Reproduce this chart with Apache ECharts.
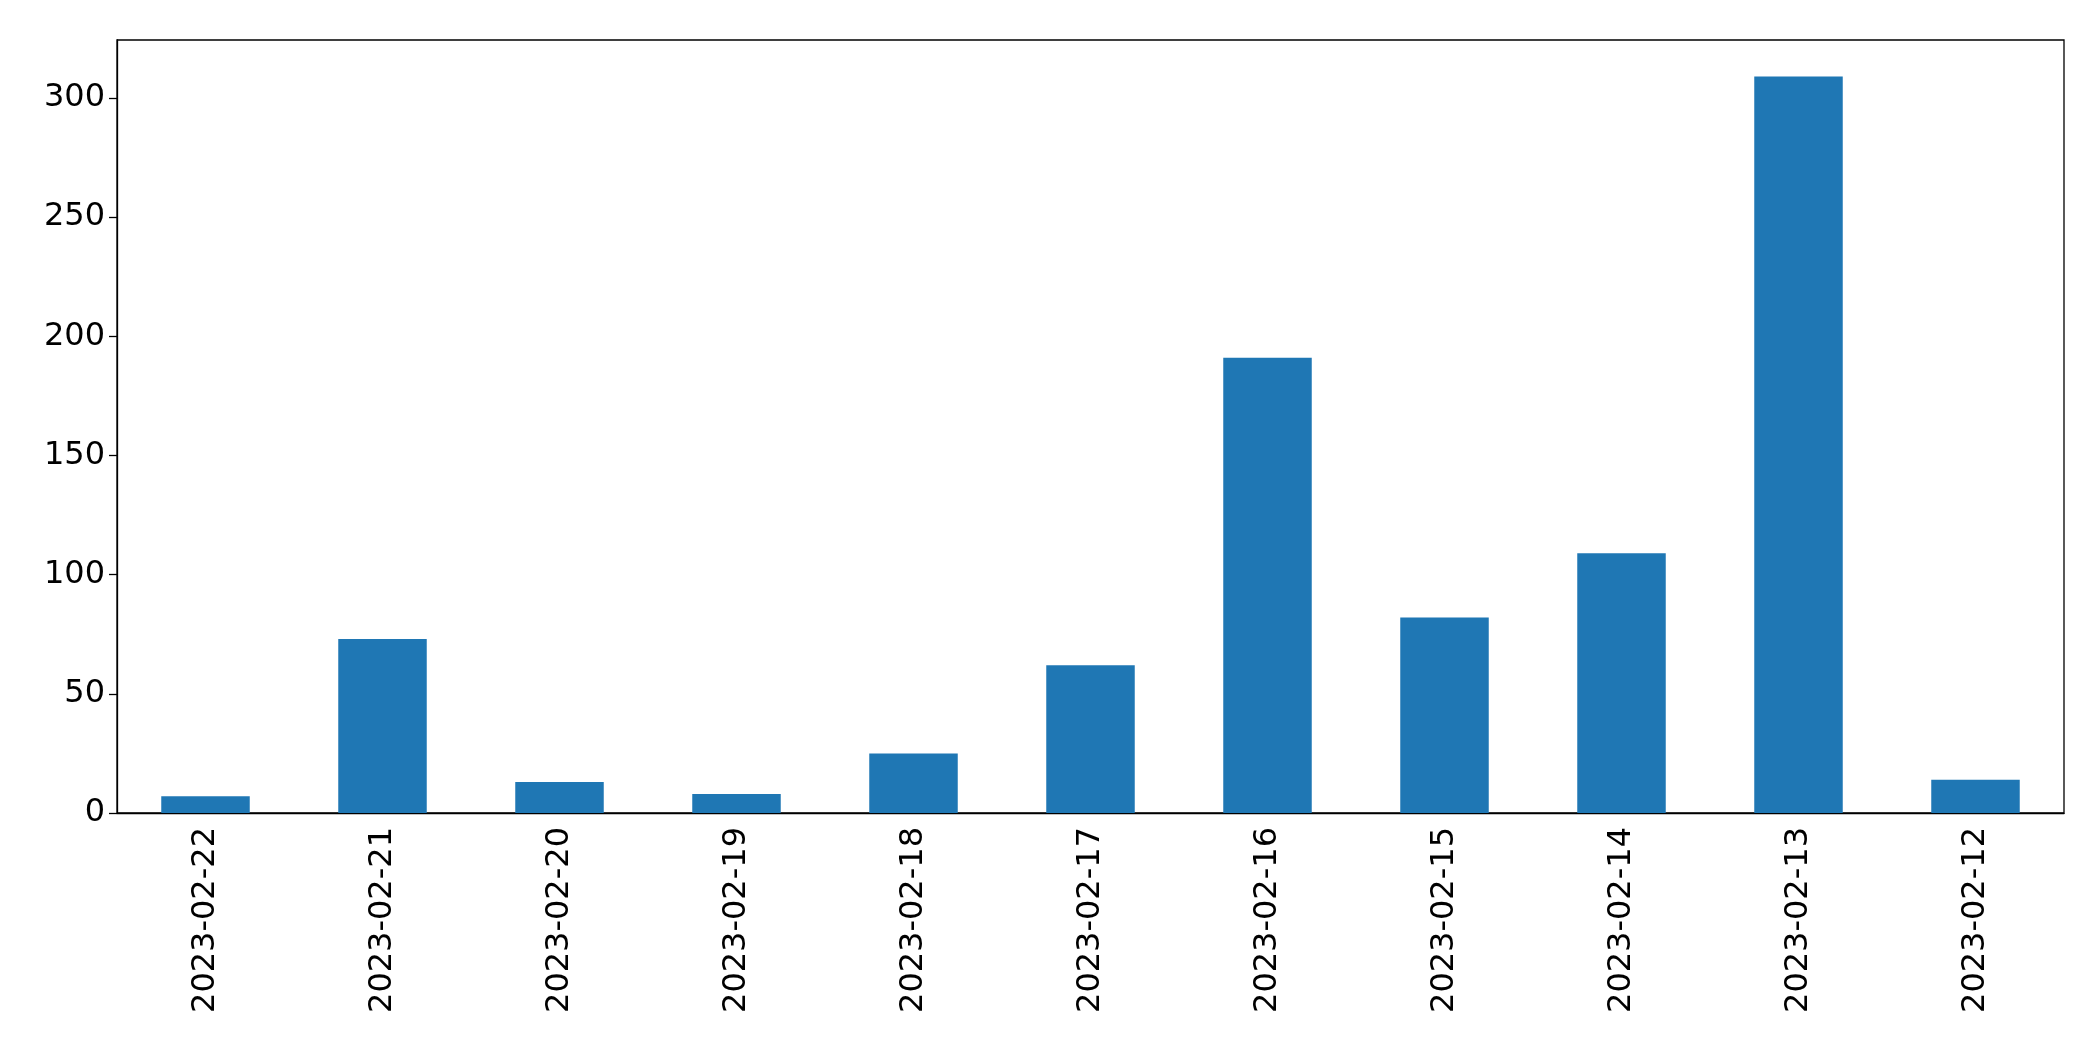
<!DOCTYPE html>
<html><head><meta charset="utf-8">
<script src="https://cdn.jsdelivr.net/npm/echarts@6/dist/echarts.min.js"></script>
<style>html,body{margin:0;padding:0;background:#fff}#c{width:2093px;height:1061px}</style>
</head><body><div id="c"></div>
<script>
const categories = ["2023-02-22","2023-02-21","2023-02-20","2023-02-19","2023-02-18","2023-02-17","2023-02-16","2023-02-15","2023-02-14","2023-02-13","2023-02-12"];
const values = [7, 73, 13, 8, 25, 62, 191, 82, 109, 309, 14];
const chart = echarts.init(document.getElementById('c'));
const font = 'DejaVu Sans';
chart.setOption({
  animation: false,
  grid: {left: 117, right: 29, top: 40, bottom: 248, show: true, borderColor: '#000', borderWidth: 1.3},
  xAxis: {type: 'category', data: categories,
    axisLine: {lineStyle: {color: '#000', width: 1.3}},
    axisTick: {alignWithLabel: true, length: 8, lineStyle: {color: '#000', width: 1.3}},
    axisLabel: {rotate: 90, color: '#000', fontSize: 32, fontFamily: font, margin: 14, interval: 0}},
  yAxis: {type: 'value', min: 0, max: 324.3, interval: 50,
    splitLine: {show: false},
    axisLine: {show: true, lineStyle: {color: '#000', width: 1.3}},
    axisTick: {show: true, length: 8, lineStyle: {color: '#000', width: 1.3}},
    axisLabel: {color: '#000', fontSize: 32, fontFamily: font, margin: 12, showMaxLabel: false}},
  series: [{type: 'bar', data: values, barWidth: '50%', itemStyle: {color: '#1f77b4'}}]
});
</script></body></html>
